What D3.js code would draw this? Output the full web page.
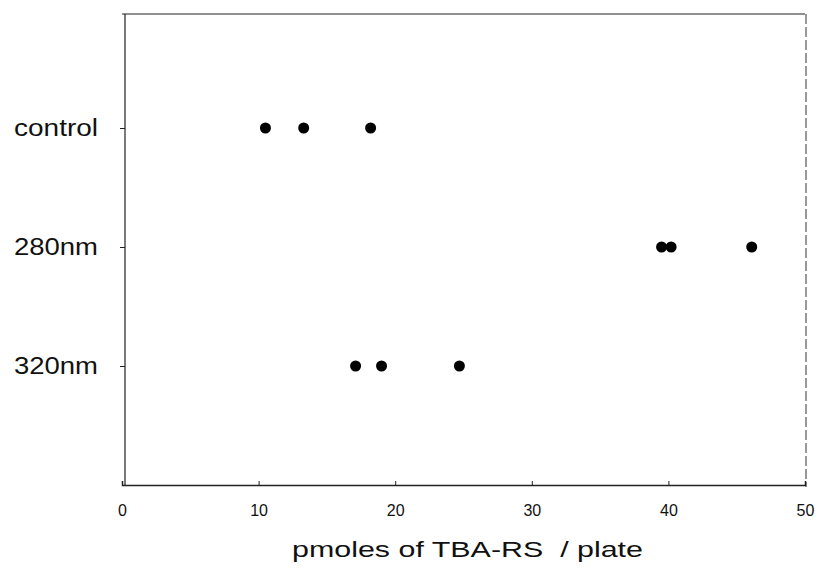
<!DOCTYPE html>
<html><head><meta charset="utf-8">
<script src="https://cdn.jsdelivr.net/npm/d3@7/dist/d3.min.js"></script>
<style>body{margin:0;background:#fff}svg{display:block}text{font-family:"Liberation Sans",Arial,sans-serif;fill:#111}</style>
</head><body>
<script>
const categories = ["control", "280nm", "320nm"];
const categoryLevels = [3, 2, 1];
const controlValues = [10.5, 13.3, 18.2];
const nm280Values = [39.5, 40.2, 46.1];
const nm320Values = [17.1, 19.0, 24.7];
const xTicks = [0, 10, 20, 30, 40, 50];
const xTitle = "pmoles of TBA-RS  / plate";

const seriesValues = [controlValues, nm280Values, nm320Values];
const points = [];
categories.forEach((c, i) => seriesValues[i].forEach(v => points.push({cat: c, level: categoryLevels[i], v})));

const W = 823, H = 576;
const svg = d3.select("body").append("svg").attr("width", W).attr("height", H);
const x = d3.scaleLinear().domain([0, 50]).range([122, 805]);
const y = d3.scaleLinear().domain([0, 4]).range([485, 9]);

const stroke = "#222";
// frame
svg.append("line").attr("x1", 122).attr("x2", 805).attr("y1", 14).attr("y2", 14).attr("stroke", stroke).attr("stroke-width", 1.2);
svg.append("line").attr("x1", 806).attr("x2", 806).attr("y1", 14).attr("y2", 487).attr("stroke", "#555").attr("stroke-width", 1.2).attr("stroke-dasharray", "10,3");

// x axis
const xAxis = d3.axisBottom(x).tickValues(xTicks).tickSize(-4).tickPadding(17).tickFormat(d3.format("d"));
const gx = svg.append("g").attr("transform", "translate(0,485)").call(xAxis);
gx.select(".domain").attr("stroke", stroke).attr("stroke-width", 1.5);
gx.selectAll(".tick line").attr("stroke", stroke);
gx.selectAll(".tick text").style("font-size", "16px").style("font-family", "Liberation Sans, Arial, sans-serif")
  .attr("fill", "#111").attr("y", 20).attr("dy", "0.71em");

// y axis
const yAxis = d3.axisLeft(y).tickValues(categoryLevels).tickSize(5).tickPadding(22).tickFormat((d, i) => categories[i]);
const gy = svg.append("g").attr("transform", "translate(125,0)").call(yAxis);
gy.select(".domain").attr("stroke", stroke).attr("stroke-width", 1.2).attr("d", "M0,14V485");
gy.selectAll(".tick line").attr("stroke", stroke);
gy.selectAll(".tick text").style("font-size", "23px").style("font-family", "Liberation Sans, Arial, sans-serif").attr("fill", "#111")
  .attr("textLength", 84).attr("lengthAdjust", "spacingAndGlyphs");

// points
svg.append("g").selectAll("circle").data(points).join("circle")
  .attr("cx", d => x(d.v)).attr("cy", d => y(d.level)).attr("r", 5.5).attr("fill", "#000");

// title
svg.append("text").attr("x", 292).attr("y", 557).attr("font-size", 22).style("white-space", "pre")
  .attr("textLength", 351).attr("lengthAdjust", "spacingAndGlyphs").text(xTitle);
</script>
</body></html>
